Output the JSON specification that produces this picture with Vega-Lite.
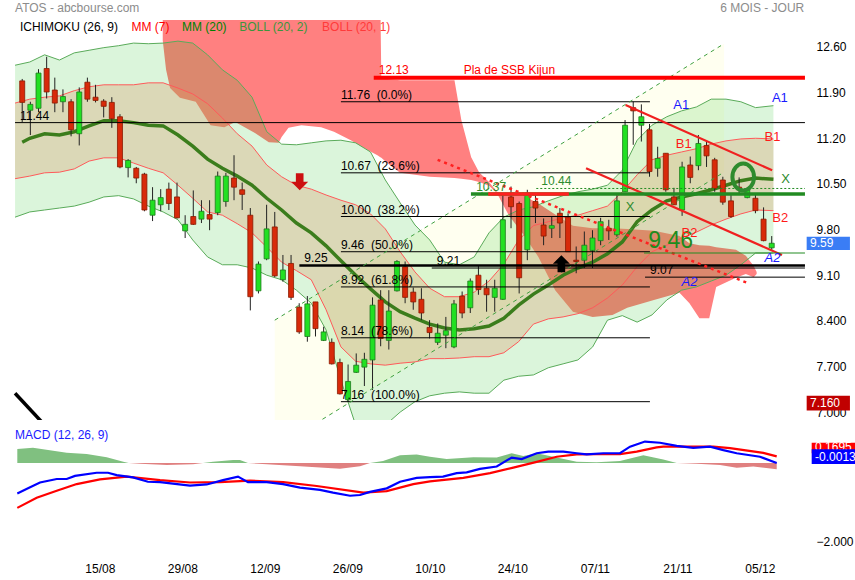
{
"$schema":"https://vega.github.io/schema/vega-lite/v6.json",
"background":"white",
"padding":{"left":10,"top":2,"right":0,"bottom":0},
"config":{"view":{"stroke":null},"font":"Liberation Sans","text":{"font":"Liberation Sans","fontSize":12}},
"spacing":20,
"bounds":"flush",
"datasets":{
"candles":[
{"k":0,"o":12.08,"h":12.11,"l":11.45,"c":11.75},{"k":1,"o":11.63,"h":11.76,"l":11.25,"c":11.72},{"k":2,"o":11.66,"h":12.26,"l":11.6,"c":12.2},{"k":3,"o":12.27,"h":12.45,"l":11.81,"c":11.91},{"k":4,"o":11.94,"h":12.13,"l":11.6,"c":11.74},{"k":5,"o":11.76,"h":11.95,"l":11.6,"c":11.84},{"k":6,"o":11.76,"h":11.8,"l":11.23,"c":11.33},{"k":7,"o":11.27,"h":11.98,"l":11.09,"c":11.91},{"k":8,"o":12.06,"h":12.13,"l":11.76,"c":11.8},{"k":9,"o":11.83,"h":12.02,"l":11.75,"c":11.78},
{"k":10,"o":11.77,"h":11.8,"l":11.52,"c":11.69},{"k":11,"o":11.75,"h":11.83,"l":11.36,"c":11.5},{"k":12,"o":11.53,"h":11.57,"l":10.74,"c":10.76},{"k":13,"o":10.75,"h":10.88,"l":10.6,"c":10.86},{"k":14,"o":10.74,"h":10.76,"l":10.51,"c":10.59},{"k":15,"o":10.65,"h":10.67,"l":10.08,"c":10.1},{"k":16,"o":10.02,"h":10.45,"l":9.93,"c":10.25},{"k":17,"o":10.18,"h":10.42,"l":10.08,"c":10.29},{"k":18,"o":10.42,"h":10.52,"l":10.1,"c":10.2},{"k":19,"o":10.3,"h":10.52,"l":9.97,"c":9.98},
{"k":20,"o":9.78,"h":10.02,"l":9.67,"c":9.88},{"k":21,"o":10.0,"h":10.4,"l":9.87,"c":9.88},{"k":22,"o":9.96,"h":10.25,"l":9.9,"c":10.08},{"k":23,"o":10.03,"h":10.25,"l":9.79,"c":9.96},{"k":24,"o":10.06,"h":10.69,"l":10.02,"c":10.62},{"k":25,"o":10.23,"h":10.67,"l":10.15,"c":10.62},{"k":26,"o":10.59,"h":10.94,"l":10.25,"c":10.45},{"k":27,"o":10.41,"h":10.52,"l":10.1,"c":10.34},{"k":28,"o":10.02,"h":10.13,"l":8.56,"c":8.77},{"k":29,"o":8.86,"h":9.31,"l":8.82,"c":9.27},
{"k":30,"o":9.35,"h":10.18,"l":9.33,"c":9.81},{"k":31,"o":9.84,"h":10.07,"l":9.07,"c":9.09},{"k":32,"o":9.03,"h":9.41,"l":9.0,"c":9.18},{"k":33,"o":9.28,"h":9.41,"l":8.72,"c":8.76},{"k":34,"o":8.61,"h":8.67,"l":8.2,"c":8.23},{"k":35,"o":8.16,"h":8.78,"l":8.08,"c":8.66},{"k":36,"o":8.69,"h":8.69,"l":8.16,"c":8.28},{"k":37,"o":8.1,"h":8.31,"l":8.09,"c":8.23},{"k":38,"o":8.07,"h":8.13,"l":7.73,"c":7.74},{"k":39,"o":7.76,"h":7.82,"l":7.27,"c":7.28},
{"k":40,"o":7.19,"h":7.73,"l":7.16,"c":7.47},{"k":41,"o":7.61,"h":7.9,"l":7.6,"c":7.72},{"k":42,"o":7.69,"h":7.91,"l":7.4,"c":7.81},{"k":43,"o":7.8,"h":8.76,"l":7.34,"c":8.64},{"k":44,"o":8.72,"h":8.87,"l":8.01,"c":8.13},{"k":45,"o":8.1,"h":8.87,"l":7.96,"c":8.55},{"k":46,"o":8.86,"h":9.33,"l":8.85,"c":9.31},{"k":47,"o":9.23,"h":9.31,"l":8.67,"c":8.76},{"k":48,"o":8.84,"h":8.91,"l":8.57,"c":8.69},{"k":49,"o":8.73,"h":8.9,"l":8.41,"c":8.52},
{"k":50,"o":8.3,"h":8.41,"l":8.13,"c":8.22},{"k":51,"o":8.07,"h":8.36,"l":8.03,"c":8.21},{"k":52,"o":8.18,"h":8.46,"l":7.98,"c":8.25},{"k":53,"o":8.0,"h":8.72,"l":7.98,"c":8.66},{"k":54,"o":8.78,"h":8.85,"l":8.44,"c":8.52},{"k":55,"o":8.6,"h":9.05,"l":8.52,"c":9.01},{"k":56,"o":9.1,"h":9.24,"l":8.8,"c":8.88},{"k":57,"o":8.9,"h":9.03,"l":8.54,"c":8.8},{"k":58,"o":8.76,"h":9.03,"l":8.54,"c":8.9},{"k":59,"o":8.73,"h":10.33,"l":8.72,"c":9.95},
{"k":60,"o":10.3,"h":10.46,"l":9.82,"c":10.15},{"k":61,"o":10.2,"h":10.23,"l":8.82,"c":9.06},{"k":62,"o":9.49,"h":10.41,"l":9.33,"c":10.36},{"k":63,"o":10.23,"h":10.36,"l":9.9,"c":10.13},{"k":64,"o":9.87,"h":9.97,"l":9.56,"c":9.7},{"k":65,"o":9.82,"h":10.0,"l":9.67,"c":9.86},{"k":66,"o":10.05,"h":10.13,"l":9.67,"c":9.9},{"k":67,"o":9.99,"h":10.05,"l":9.46,"c":9.46},{"k":68,"o":9.33,"h":9.54,"l":9.13,"c":9.31},{"k":69,"o":9.33,"h":9.77,"l":9.21,"c":9.56},
{"k":70,"o":9.48,"h":9.79,"l":9.21,"c":9.67},{"k":71,"o":9.63,"h":9.98,"l":9.56,"c":9.92},{"k":72,"o":9.82,"h":9.95,"l":9.64,"c":9.78},{"k":73,"o":9.72,"h":10.33,"l":9.69,"c":10.24},{"k":74,"o":10.38,"h":11.48,"l":10.38,"c":11.4},{"k":75,"o":11.67,"h":11.76,"l":11.1,"c":11.62},{"k":76,"o":11.4,"h":11.72,"l":11.15,"c":11.53},{"k":77,"o":11.33,"h":11.42,"l":10.61,"c":10.69},{"k":78,"o":10.74,"h":11.07,"l":10.61,"c":10.89},{"k":79,"o":10.97,"h":10.97,"l":10.38,"c":10.41},
{"k":80,"o":10.3,"h":10.44,"l":10.18,"c":10.18},{"k":81,"o":10.1,"h":10.84,"l":10.01,"c":10.76},{"k":82,"o":10.79,"h":10.92,"l":10.51,"c":10.6},{"k":83,"o":10.78,"h":11.25,"l":10.71,"c":11.12},{"k":84,"o":11.09,"h":11.16,"l":10.76,"c":10.93},{"k":85,"o":10.87,"h":10.9,"l":10.38,"c":10.43},{"k":86,"o":10.56,"h":10.61,"l":10.18,"c":10.22},{"k":87,"o":10.24,"h":10.33,"l":9.98,"c":10.0},{"k":88,"o":10.45,"h":10.6,"l":10.33,"c":10.41},{"k":89,"o":10.29,"h":10.45,"l":10.28,"c":10.41},
{"k":90,"o":10.28,"h":10.36,"l":10.05,"c":10.09},{"k":91,"o":9.96,"h":10.14,"l":9.62,"c":9.63},{"k":92,"o":9.52,"h":9.7,"l":9.49,"c":9.59}
],
"bands":[
{"k":-0.88,"ou":12.32,"iu":11.74,"il":10.58,"ol":9.99},{"k":0.93,"ou":12.37,"iu":11.8,"il":10.62,"ol":10.07},{"k":2.75,"ou":12.48,"iu":11.83,"il":10.67,"ol":10.1},{"k":4.57,"ou":12.4,"iu":11.85,"il":10.68,"ol":10.13},{"k":6.39,"ou":12.51,"iu":11.93,"il":10.73,"ol":10.16},{"k":8.21,"ou":12.55,"iu":11.99,"il":10.85,"ol":10.22},{"k":10.02,"ou":12.59,"iu":12.02,"il":10.9,"ol":10.3},{"k":11.84,"ou":12.62,"iu":12.02,"il":10.9,"ol":10.32},{"k":13.66,"ou":12.66,"iu":12.02,"il":10.82,"ol":10.27},{"k":15.48,"ou":12.65,"iu":12.05,"il":10.74,"ol":10.16},
{"k":17.3,"ou":12.66,"iu":12.05,"il":10.67,"ol":10.07},{"k":19.12,"ou":12.69,"iu":11.97,"il":10.48,"ol":9.95},{"k":20.93,"ou":12.66,"iu":11.88,"il":10.28,"ol":9.64},{"k":22.75,"ou":12.48,"iu":11.73,"il":10.07,"ol":9.38},{"k":24.57,"ou":12.25,"iu":11.51,"il":10.02,"ol":9.26},{"k":26.39,"ou":12.09,"iu":11.27,"il":9.89,"ol":9.26},{"k":28.21,"ou":11.83,"iu":11.08,"il":9.75,"ol":9.21},{"k":30.02,"ou":11.3,"iu":10.79,"il":9.53,"ol":9.1},{"k":31.84,"ou":11.11,"iu":10.61,"il":9.3,"ol":9.03},{"k":33.66,"ou":11.1,"iu":10.48,"il":9.17,"ol":8.87},
{"k":35.48,"ou":11.13,"iu":10.42,"il":9.03,"ol":8.67},{"k":37.3,"ou":11.16,"iu":10.33,"il":8.57,"ol":8.26},{"k":39.12,"ou":11.17,"iu":10.25,"il":8.0,"ol":7.49},{"k":40.93,"ou":11.13,"iu":10.18,"il":7.78,"ol":6.8},{"k":42.75,"ou":10.99,"iu":10.04,"il":7.74,"ol":6.65},{"k":44.57,"ou":10.56,"iu":9.81,"il":7.72,"ol":6.8},{"k":46.39,"ou":10.21,"iu":9.46,"il":7.75,"ol":7.0},{"k":48.21,"ou":9.87,"iu":9.15,"il":7.77,"ol":7.16},{"k":50.02,"ou":9.64,"iu":8.9,"il":7.82,"ol":7.25},{"k":51.84,"ou":9.3,"iu":8.77,"il":7.82,"ol":7.29},
{"k":53.66,"ou":9.26,"iu":8.77,"il":7.83,"ol":7.31},{"k":55.48,"ou":9.38,"iu":8.84,"il":7.85,"ol":7.29},{"k":57.3,"ou":9.75,"iu":9.01,"il":7.85,"ol":7.29},{"k":59.12,"ou":9.99,"iu":9.27,"il":7.91,"ol":7.49},{"k":60.93,"ou":10.1,"iu":9.64,"il":8.08,"ol":7.55},{"k":62.75,"ou":10.15,"iu":9.86,"il":8.35,"ol":7.57},{"k":64.57,"ou":10.24,"iu":9.92,"il":8.43,"ol":7.68},{"k":66.39,"ou":10.32,"iu":9.98,"il":8.46,"ol":7.74},{"k":68.21,"ou":10.38,"iu":10.02,"il":8.51,"ol":7.8},{"k":70.02,"ou":10.42,"iu":10.09,"il":8.6,"ol":8.0},
{"k":71.84,"ou":10.48,"iu":10.16,"il":8.75,"ol":8.41},{"k":73.66,"ou":10.71,"iu":10.38,"il":8.95,"ol":8.48},{"k":75.48,"ou":11.17,"iu":10.64,"il":9.23,"ol":8.38},{"k":77.3,"ou":11.4,"iu":10.87,"il":9.46,"ol":8.49},{"k":79.12,"ou":11.53,"iu":10.94,"il":9.56,"ol":8.72},{"k":80.93,"ou":11.62,"iu":10.99,"il":9.67,"ol":8.87},{"k":82.75,"ou":11.68,"iu":11.04,"il":9.76,"ol":8.92},{"k":84.57,"ou":11.8,"iu":11.11,"il":9.87,"ol":9.01},{"k":86.39,"ou":11.8,"iu":11.16,"il":9.96,"ol":9.1},{"k":88.21,"ou":11.76,"iu":11.19,"il":10.04,"ol":9.26},
{"k":90.02,"ou":11.67,"iu":11.2,"il":10.1,"ol":9.44},{"k":92.21,"ou":11.7,"iu":11.19,"il":10.09,"ol":9.44}
],
"mm20":[
{"k":0,"v":11.14},{"k":0.93,"v":11.2},{"k":2.75,"v":11.27},{"k":4.57,"v":11.25},{"k":6.39,"v":11.3},{"k":8.21,"v":11.39},{"k":10.02,"v":11.47},{"k":11.84,"v":11.47},{"k":13.66,"v":11.44},{"k":15.48,"v":11.4},{"k":17.3,"v":11.39},{"k":19.12,"v":11.25},{"k":20.93,"v":11.08},{"k":22.75,"v":10.88},{"k":24.57,"v":10.74},{"k":26.39,"v":10.62},{"k":28.21,"v":10.48},{"k":30.02,"v":10.28},{"k":31.84,"v":10.1},{"k":33.66,"v":9.9},{"k":35.48,"v":9.75},{"k":37.3,"v":9.55},{"k":39.12,"v":9.32},{"k":40.93,"v":9.1},{"k":42.75,"v":8.89},{"k":44.57,"v":8.69},{"k":46.39,"v":8.54},{"k":48.21,"v":8.44},{"k":50.02,"v":8.35},{"k":51.84,"v":8.29},{"k":53.66,"v":8.26},{"k":55.48,"v":8.28},{"k":57.3,"v":8.32},{"k":59.12,"v":8.44},{"k":60.93,"v":8.64},{"k":62.75,"v":8.81},{"k":64.57,"v":8.95},{"k":66.39,"v":9.1},{"k":68.21,"v":9.21},{"k":70.02,"v":9.3},{"k":71.84,"v":9.43},{"k":73.66,"v":9.61},{"k":75.48,"v":9.92},{"k":77.3,"v":10.1},{"k":79.12,"v":10.24},{"k":80.93,"v":10.3},{"k":82.75,"v":10.35},{"k":84.57,"v":10.41},{"k":86.39,"v":10.48},{"k":88.21,"v":10.55},{"k":90.02,"v":10.59},{"k":92.21,"v":10.57}
],
"cloud":[
{"k":17.25,"t":13.3,"b":12.7},{"k":17.66,"t":13.3,"b":12.25},{"k":18.15,"t":13.3,"b":11.97},{"k":19.36,"t":13.3,"b":11.82},{"k":21.3,"t":13.3,"b":11.76},{"k":22.15,"t":13.3,"b":11.59},{"k":23.12,"t":13.3,"b":11.4},{"k":24.81,"t":13.3,"b":11.37},{"k":26.15,"t":13.3,"b":11.45},{"k":28.57,"t":13.3,"b":11.28},{"k":30.27,"t":13.3,"b":11.14},{"k":31.48,"t":13.3,"b":11.13},{"k":31.84,"t":13.3,"b":11.22},{"k":32.69,"t":13.3,"b":11.36},{"k":34.27,"t":13.3,"b":11.4},{"k":36.69,"t":13.3,"b":11.37},{"k":38.27,"t":13.3,"b":11.3},{"k":40.33,"t":13.3,"b":11.17},{"k":42.39,"t":13.3,"b":11.02},{"k":43.6,"t":13.3,"b":10.94},{"k":43.96,"t":13.3,"b":10.91},
{"k":44.08,"t":12.11,"b":10.9},{"k":44.81,"t":12.11,"b":10.82},{"k":46.39,"t":12.09,"b":10.67},{"k":50.02,"t":12.09,"b":10.61},{"k":53.06,"t":12.09,"b":10.59},{"k":53.9,"t":11.48,"b":10.58},{"k":55.11,"t":10.91,"b":10.56},{"k":56.08,"t":10.68,"b":10.53},{"k":57.3,"t":10.53,"b":10.47},{"k":58.26,"t":10.38,"b":10.36},
{"k":59.72,"t":10.33,"b":10.02},{"k":61.54,"t":10.32,"b":9.72},{"k":63.36,"t":10.2,"b":9.38},{"k":65.42,"t":10.03,"b":8.87},{"k":67.6,"t":9.86,"b":8.54},{"k":70.02,"t":9.82,"b":8.46},{"k":72.45,"t":9.82,"b":8.49},{"k":74.27,"t":9.81,"b":8.6},{"k":77.54,"t":9.78,"b":8.72},{"k":80.68,"t":9.7,"b":8.83},{"k":81.9,"t":9.59,"b":8.67},{"k":83.12,"t":9.56,"b":8.44},{"k":84.33,"t":9.55,"b":8.44},{"k":85.18,"t":9.53,"b":8.92},{"k":87.61,"t":9.49,"b":9.06},{"k":88.82,"t":9.4,"b":9.12},{"k":89.79,"t":9.24,"b":9.07},{"k":90.15,"t":9.15,"b":9.12}
],
"fib":[
{"v":11.76,"t":"11.76\u00a0 (0.0%)"},{"v":10.67,"t":"10.67\u00a0 (23.6%)"},{"v":10.0,"t":"10.00\u00a0 (38.2%)"},{"v":9.46,"t":"9.46\u00a0 (50.0%)"},{"v":8.92,"t":"8.92\u00a0 (61.8%)"},{"v":8.14,"t":"8.14\u00a0 (78.6%)"},{"v":7.16,"t":"7.16\u00a0 (100.0%)"}
],
"macd":[
{"k":0,"v":-0.78},{"k":1.3,"v":-0.65},{"k":2.75,"v":-0.5},{"k":4.78,"v":-0.41},{"k":5.99,"v":-0.41},{"k":6.99,"v":-0.33},{"k":9.62,"v":-0.25},{"k":10.99,"v":-0.25},{"k":12.05,"v":-0.31},{"k":14.02,"v":-0.37},{"k":15.84,"v":-0.48},{"k":17.3,"v":-0.49},{"k":20.93,"v":-0.58},{"k":22.96,"v":-0.55},{"k":24.93,"v":-0.44},{"k":26.75,"v":-0.35},{"k":27.96,"v":-0.49},{"k":30.23,"v":-0.49},{"k":32.21,"v":-0.54},{"k":34.27,"v":-0.63},{"k":36.69,"v":-0.69},{"k":38.27,"v":-0.76},{"k":40.33,"v":-0.84},{"k":41.54,"v":-0.82},{"k":42.75,"v":-0.74},{"k":44.78,"v":-0.65},{"k":46.39,"v":-0.48},{"k":48.41,"v":-0.38},{"k":50.02,"v":-0.36},{"k":51.6,"v":-0.35},{"k":53.26,"v":-0.26},{"k":54.47,"v":-0.24},{"k":56.08,"v":-0.15},{"k":58.11,"v":-0.09},{"k":59.93,"v":0.14},{"k":61.14,"v":0.1},{"k":62.96,"v":0.25},{"k":64.36,"v":0.29},{"k":66.18,"v":0.29},{"k":67.81,"v":0.25},{"k":69.02,"v":0.22},{"k":71.03,"v":0.25},{"k":73.05,"v":0.25},{"k":74.27,"v":0.42},{"k":76.08,"v":0.55},{"k":77.9,"v":0.52},{"k":79.93,"v":0.44},{"k":81.94,"v":0.39},{"k":83.96,"v":0.42},{"k":85.58,"v":0.33},{"k":87.2,"v":0.25},{"k":90.02,"v":0.16},{"k":92.05,"v":-0.0013}
],
"signal":[
{"k":0,"v":-1.15},{"k":2.35,"v":-0.89},{"k":4.78,"v":-0.71},{"k":7.2,"v":-0.54},{"k":10.02,"v":-0.42},{"k":13.26,"v":-0.35},{"k":17.3,"v":-0.44},{"k":20.93,"v":-0.5},{"k":24.57,"v":-0.49},{"k":28.21,"v":-0.45},{"k":32.24,"v":-0.49},{"k":36.29,"v":-0.59},{"k":41.94,"v":-0.76},{"k":44.78,"v":-0.72},{"k":48.0,"v":-0.54},{"k":50.02,"v":-0.47},{"k":54.06,"v":-0.38},{"k":57.3,"v":-0.26},{"k":60.12,"v":-0.12},{"k":62.96,"v":0.03},{"k":65.38,"v":0.16},{"k":67.81,"v":0.22},{"k":70.23,"v":0.23},{"k":73.05,"v":0.23},{"k":75.08,"v":0.29},{"k":77.5,"v":0.4},{"k":78.3,"v":0.42},{"k":84.36,"v":0.42},{"k":86.39,"v":0.38},{"k":90.42,"v":0.26},{"k":92.05,"v":0.1695}
],
"hist":[
{"k":0,"h":0.36,"seg":1,"s":"pos"},{"k":1.9,"h":0.39,"seg":1,"s":"pos"},{"k":5.99,"h":0.26,"seg":1,"s":"pos"},{"k":8.41,"h":0.23,"seg":1,"s":"pos"},{"k":10.84,"h":0.15,"seg":1,"s":"pos"},{"k":12.85,"h":0.03,"seg":1,"s":"pos"},{"k":13.5,"h":0,"seg":1,"s":"pos"},
{"k":13.5,"h":0,"seg":2,"s":"neg"},{"k":14.87,"h":-0.02,"seg":2,"s":"neg"},{"k":18.11,"h":-0.05,"seg":2,"s":"neg"},{"k":21.3,"h":-0.03,"seg":2,"s":"neg"},{"k":22.5,"h":0,"seg":2,"s":"neg"},
{"k":22.5,"h":0,"seg":3,"s":"pos"},{"k":23.72,"h":0.03,"seg":3,"s":"pos"},{"k":26.15,"h":0.08,"seg":3,"s":"pos"},{"k":26.99,"h":0.08,"seg":3,"s":"pos"},{"k":27.96,"h":0,"seg":3,"s":"pos"},
{"k":27.96,"h":0,"seg":4,"s":"neg"},{"k":30.23,"h":-0.03,"seg":4,"s":"neg"},{"k":34.27,"h":-0.08,"seg":4,"s":"neg"},{"k":39.12,"h":-0.15,"seg":4,"s":"neg"},{"k":41.54,"h":-0.08,"seg":4,"s":"neg"},{"k":42.75,"h":0,"seg":4,"s":"neg"},
{"k":42.75,"h":0,"seg":5,"s":"pos"},{"k":44.33,"h":0.05,"seg":5,"s":"pos"},{"k":46.39,"h":0.2,"seg":5,"s":"pos"},{"k":48.41,"h":0.22,"seg":5,"s":"pos"},{"k":50.02,"h":0.16,"seg":5,"s":"pos"},{"k":52.05,"h":0.1,"seg":5,"s":"pos"},{"k":55.27,"h":0.15,"seg":5,"s":"pos"},{"k":58.11,"h":0.14,"seg":5,"s":"pos"},{"k":59.93,"h":0.25,"seg":5,"s":"pos"},{"k":61.33,"h":0.18,"seg":5,"s":"pos"},{"k":62.96,"h":0.25,"seg":5,"s":"pos"},{"k":65.38,"h":0.14,"seg":5,"s":"pos"},{"k":67.81,"h":0.03,"seg":5,"s":"pos"},{"k":70.23,"h":0.02,"seg":5,"s":"pos"},{"k":73.05,"h":0.05,"seg":5,"s":"pos"},{"k":75.88,"h":0.2,"seg":5,"s":"pos"},{"k":78.3,"h":0.09,"seg":5,"s":"pos"},{"k":79.93,"h":0,"seg":5,"s":"pos"},
{"k":79.93,"h":0,"seg":6,"s":"neg"},{"k":82.35,"h":-0.02,"seg":6,"s":"neg"},{"k":85.18,"h":-0.05,"seg":6,"s":"neg"},{"k":87.2,"h":-0.12,"seg":6,"s":"neg"},{"k":89.21,"h":-0.09,"seg":6,"s":"neg"},{"k":92.05,"h":-0.16,"seg":6,"s":"neg"}
]
},
"vconcat":[
{"width":800,"height":400,
"resolve":{"axis":{"x":"independent","y":"independent"}},
"layer":[
{"data":{"values":[{"k":31.0,"up":8.41,"lo":6.44},{"k":86.15,"up":12.65,"lo":10.68}]},
 "mark":{"type":"area","color":"#fffff0","clip":true},
 "encoding":{
  "x":{"field":"k","type":"quantitative","scale":{"domain":[-0.885,96.085],"nice":false,"zero":false},"axis":null},
  "y":{"field":"up","type":"quantitative","scale":{"domain":[6.879,13.014],"nice":false,"zero":false},
   "axis":{"orient":"right","title":null,"values":[12.6,11.9,11.2,10.5,9.8,9.1,8.4,7.7,7.0],"labelExpr":"datum.value > 8.5 ? format(datum.value, '.2f') : format(datum.value, '.3f')","domain":false,"ticks":false,"grid":false,"labelPadding":6,"labelFontSize":12,"labelColor":"#000000","labelFont":"Liberation Sans"}},
  "y2":{"field":"lo"}}},
{"data":{"name":"cloud"},"mark":{"type":"area","color":"#ff8080","clip":true},
 "encoding":{"x":{"field":"k","type":"quantitative","axis":null},"y":{"field":"t","type":"quantitative","axis":null},"y2":{"field":"b"}}},
{"data":{"name":"bands"},"mark":{"type":"area","color":"#00bb00","opacity":0.14,"clip":true},
 "encoding":{"x":{"field":"k","type":"quantitative","axis":null},"y":{"field":"ou","type":"quantitative","axis":null},"y2":{"field":"ol"}}},
{"data":{"name":"bands"},"mark":{"type":"area","color":"#dc9664","opacity":0.3,"clip":true},
 "encoding":{"x":{"field":"k","type":"quantitative","axis":null},"y":{"field":"iu","type":"quantitative","axis":null},"y2":{"field":"il"}}},
{"data":{"name":"bands"},"mark":{"type":"line","color":"#5aab5a","strokeWidth":1,"clip":true},
 "encoding":{"x":{"field":"k","type":"quantitative","axis":null},"y":{"field":"ou","type":"quantitative","axis":null}}},
{"data":{"name":"bands"},"mark":{"type":"line","color":"#5aab5a","strokeWidth":1,"clip":true},
 "encoding":{"x":{"field":"k","type":"quantitative","axis":null},"y":{"field":"ol","type":"quantitative","axis":null}}},
{"data":{"name":"bands"},"mark":{"type":"line","color":"#ff5a5a","strokeWidth":1,"clip":true},
 "encoding":{"x":{"field":"k","type":"quantitative","axis":null},"y":{"field":"iu","type":"quantitative","axis":null}}},
{"data":{"name":"bands"},"mark":{"type":"line","color":"#ff5a5a","strokeWidth":1,"clip":true},
 "encoding":{"x":{"field":"k","type":"quantitative","axis":null},"y":{"field":"il","type":"quantitative","axis":null}}},
{"data":{"name":"mm20"},"mark":{"type":"line","color":"#3b7d1c","strokeWidth":3.5,"clip":true},
 "encoding":{"x":{"field":"k","type":"quantitative","axis":null},"y":{"field":"v","type":"quantitative","axis":null}}},
{"data":{"name":"candles"},"mark":{"type":"rule","color":"#222222","strokeWidth":1},
 "encoding":{"x":{"field":"k","type":"quantitative","axis":null},"y":{"field":"l","type":"quantitative","axis":null},"y2":{"field":"h"}}},
{"data":{"name":"candles"},"mark":{"type":"bar","orient":"vertical","size":5,"strokeWidth":0.8},
 "encoding":{"x":{"field":"k","type":"quantitative","axis":null},"y":{"field":"o","type":"quantitative","axis":null},"y2":{"field":"c"},
  "fill":{"condition":{"test":"datum.c >= datum.o","value":"#22e022"},"value":"#d82a0a"},
  "stroke":{"condition":{"test":"datum.c >= datum.o","value":"#1d7a1d"},"value":"#8a1a00"}}},
{"data":{"name":"fib"},"mark":{"type":"rule","color":"#000000","strokeWidth":1},
 "encoding":{"x":{"datum":39.12,"type":"quantitative","axis":null},"x2":{"datum":77.05},"y":{"field":"v","type":"quantitative","axis":null}}},
{"data":{"name":"fib"},"mark":{"type":"text","align":"left","baseline":"alphabetic","dy":-3,"color":"#000000","fontSize":12},
 "encoding":{"x":{"datum":39.12,"type":"quantitative","axis":null},"y":{"field":"v","type":"quantitative","axis":null},"text":{"field":"t"}}},
{"data":{"values":[{"k1":-0.88,"k2":96.08,"v":11.44},{"k1":50.27,"k2":96.08,"v":9.21},{"k1":76.45,"k2":96.08,"v":9.07}]},
 "mark":{"type":"rule","color":"#000000","strokeWidth":1},
 "encoding":{"x":{"field":"k1","type":"quantitative","axis":null},"x2":{"field":"k2"},"y":{"field":"v","type":"quantitative","axis":null}}},
{"data":{"values":[{"k1":34.02,"k2":96.08,"v":9.25}]},
 "mark":{"type":"rule","color":"#000000","strokeWidth":2.5},
 "encoding":{"x":{"field":"k1","type":"quantitative","axis":null},"x2":{"field":"k2"},"y":{"field":"v","type":"quantitative","axis":null}}},
{"data":{"values":[{"k":-0.88,"v":11.44,"t":"11.44"},{"k":34.02,"v":9.25,"t":"9.25"},{"k":50.27,"v":9.21,"t":"9.21"},{"k":76.45,"v":9.07,"t":"9.07"}]},
 "mark":{"type":"text","align":"left","baseline":"alphabetic","dx":5,"dy":-3,"color":"#000000","fontSize":12},
 "encoding":{"x":{"field":"k","type":"quantitative","axis":null},"y":{"field":"v","type":"quantitative","axis":null},"text":{"field":"t"}}},
{"data":{"values":[{"k1":31.0,"v1":8.41,"k2":86.15,"v2":12.65},{"k1":31.0,"v1":6.44,"k2":86.15,"v2":10.68}]},
 "mark":{"type":"rule","color":"#3fa03f","strokeWidth":1,"strokeDash":[4,4],"clip":true},
 "encoding":{"x":{"field":"k1","type":"quantitative","axis":null},"y":{"field":"v1","type":"quantitative","axis":null},"x2":{"field":"k2"},"y2":{"field":"v2"}}},
{"data":{"values":[{"k1":50.99,"v1":10.87,"k2":89.05,"v2":8.98}]},
 "mark":{"type":"rule","color":"#ff2020","strokeWidth":2.5,"strokeDash":[3,4]},
 "encoding":{"x":{"field":"k1","type":"quantitative","axis":null},"y":{"field":"v1","type":"quantitative","axis":null},"x2":{"field":"k2"},"y2":{"field":"v2"}}},
{"data":{"values":[{"k1":74.06,"v1":11.71,"k2":92.05,"v2":10.71},{"k1":69.21,"v1":10.74,"k2":93.26,"v2":9.41}]},
 "mark":{"type":"rule","color":"#f02020","strokeWidth":2.2},
 "encoding":{"x":{"field":"k1","type":"quantitative","axis":null},"y":{"field":"v1","type":"quantitative","axis":null},"x2":{"field":"k2"},"y2":{"field":"v2"}}},
{"data":{"values":[{"k1":55.08,"k2":96.08,"v":10.345}]},
 "mark":{"type":"rule","color":"#228b22","strokeWidth":3.5},
 "encoding":{"x":{"field":"k1","type":"quantitative","axis":null},"x2":{"field":"k2"},"y":{"field":"v","type":"quantitative","axis":null}}},
{"data":{"values":[{"k1":57.2,"k2":67.1,"v":10.345}]},
 "mark":{"type":"rule","color":"#ff2020","strokeWidth":3.5},
 "encoding":{"x":{"field":"k1","type":"quantitative","axis":null},"x2":{"field":"k2"},"y":{"field":"v","type":"quantitative","axis":null}}},
{"data":{"values":[{"k1":63.1,"k2":96.08,"v":10.43}]},
 "mark":{"type":"rule","color":"#228b22","strokeWidth":1,"strokeDash":[2,2]},
 "encoding":{"x":{"field":"k1","type":"quantitative","axis":null},"x2":{"field":"k2"},"y":{"field":"v","type":"quantitative","axis":null}}},
{"data":{"values":[{"k1":76.33,"k2":96.08,"v":9.44}]},
 "mark":{"type":"rule","color":"#228b22","strokeWidth":1.2},
 "encoding":{"x":{"field":"k1","type":"quantitative","axis":null},"x2":{"field":"k2"},"y":{"field":"v","type":"quantitative","axis":null}}},
{"data":{"values":[{"k1":43.15,"k2":96.08,"v":12.13}]},
 "mark":{"type":"rule","color":"#ff0000","strokeWidth":4},
 "encoding":{"x":{"field":"k1","type":"quantitative","axis":null},"x2":{"field":"k2"},"y":{"field":"v","type":"quantitative","axis":null}}},
{"data":{"values":[{"k1":-0.88,"v1":7.29,"k2":4.0,"v2":6.633}]},
 "mark":{"type":"rule","color":"#000000","strokeWidth":3.5,"clip":true},
 "encoding":{"x":{"field":"k1","type":"quantitative","axis":null},"y":{"field":"v1","type":"quantitative","axis":null},"x2":{"field":"k2"},"y2":{"field":"v2"}}},
{"data":{"values":[{"k":34.06,"v":10.533}]},
 "mark":{"type":"point","shape":"M-0.45,-1L0.45,-1L0.45,0L1,0L0,1L-1,0L-0.45,0Z","filled":true,"color":"#cc1010","size":289,"opacity":1},
 "encoding":{"x":{"field":"k","type":"quantitative","axis":null},"y":{"field":"v","type":"quantitative","axis":null}}},
{"data":{"values":[{"k":66.18,"v":9.275}]},
 "mark":{"type":"point","shape":"M-0.45,1L0.45,1L0.45,0L1,0L0,-1L-1,0L-0.45,0Z","filled":true,"color":"#000000","size":289,"opacity":1},
 "encoding":{"x":{"field":"k","type":"quantitative","axis":null},"y":{"field":"v","type":"quantitative","axis":null}}},
{"data":{"values":[{"k":88.5,"v":10.606}]},
 "mark":{"type":"point","shape":"M0,-1A0.8,1,0,1,1,0,1A0.8,1,0,1,1,0,-1Z","filled":false,"stroke":"#2e8b2e","strokeWidth":4,"size":729,"opacity":1},
 "encoding":{"x":{"field":"k","type":"quantitative","axis":null},"y":{"field":"v","type":"quantitative","axis":null}}},
{"data":{"values":[{"k":79.6,"v":9.62,"t":"9.46"}]},
 "mark":{"type":"text","align":"center","baseline":"middle","fontSize":23,"color":"#1e8c1e"},
 "encoding":{"x":{"field":"k","type":"quantitative","axis":null},"y":{"field":"v","type":"quantitative","axis":null},"text":{"field":"t"}}},
{"data":{"values":[{"k":80.9,"v":11.71,"t":"A1"},{"k":93.0,"v":11.82,"t":"A1"}]},
 "mark":{"type":"text","align":"center","baseline":"middle","fontSize":13,"color":"#1a1aff"},
 "encoding":{"x":{"field":"k","type":"quantitative","axis":null},"y":{"field":"v","type":"quantitative","axis":null},"text":{"field":"t"}}},
{"data":{"values":[{"k":81.2,"v":11.11,"t":"B1"},{"k":92.1,"v":11.22,"t":"B1"},{"k":93.05,"v":9.98,"t":"B2"},{"k":81.9,"v":9.75,"t":"B2"}]},
 "mark":{"type":"text","align":"center","baseline":"middle","fontSize":13,"color":"#ff1a1a"},
 "encoding":{"x":{"field":"k","type":"quantitative","axis":null},"y":{"field":"v","type":"quantitative","axis":null},"text":{"field":"t"}}},
{"data":{"values":[{"k":74.6,"v":10.15,"t":"X"},{"k":93.7,"v":10.58,"t":"X"}]},
 "mark":{"type":"text","align":"center","baseline":"middle","fontSize":13,"color":"#2e8b2e"},
 "encoding":{"x":{"field":"k","type":"quantitative","axis":null},"y":{"field":"v","type":"quantitative","axis":null},"text":{"field":"t"}}},
{"data":{"values":[{"k":92.1,"v":9.36,"t":"A2"},{"k":81.9,"v":9.0,"t":"A2"}]},
 "mark":{"type":"text","align":"center","baseline":"middle","fontSize":13,"fontStyle":"italic","color":"#1a1aff"},
 "encoding":{"x":{"field":"k","type":"quantitative","axis":null},"y":{"field":"v","type":"quantitative","axis":null},"text":{"field":"t"}}},
{"data":{"values":[{"k":43.76,"v":12.13,"t":"12.13"},{"k":54.19,"v":12.13,"t":"Pla de SSB Kijun"}]},
 "mark":{"type":"text","align":"left","baseline":"alphabetic","dy":-4,"fontSize":12,"color":"#ff0000"},
 "encoding":{"x":{"field":"k","type":"quantitative","axis":null},"y":{"field":"v","type":"quantitative","axis":null},"text":{"field":"t"}}},
{"data":{"values":[{"k":55.72,"v":10.345,"t":"10.37"},{"k":63.72,"v":10.43,"t":"10.44"}]},
 "mark":{"type":"text","align":"left","baseline":"alphabetic","dy":-3,"fontSize":12,"color":"#2e8b2e"},
 "encoding":{"x":{"field":"k","type":"quantitative","axis":null},"y":{"field":"v","type":"quantitative","axis":null},"text":{"field":"t"}}},
{"data":{"values":[{"k":-0.28,"v":12.907,"t":"ICHIMOKU (26, 9)"}]},
 "mark":{"type":"text","align":"left","baseline":"middle","fontSize":12,"color":"#000000"},
 "encoding":{"x":{"field":"k","type":"quantitative","axis":null},"y":{"field":"v","type":"quantitative","axis":null},"text":{"field":"t"}}},
{"data":{"values":[{"k":13.42,"v":12.907,"t":"MM (7)"}]},
 "mark":{"type":"text","align":"left","baseline":"middle","fontSize":12,"color":"#ff0000"},
 "encoding":{"x":{"field":"k","type":"quantitative","axis":null},"y":{"field":"v","type":"quantitative","axis":null},"text":{"field":"t"}}},
{"data":{"values":[{"k":19.6,"v":12.907,"t":"MM (20)"}]},
 "mark":{"type":"text","align":"left","baseline":"middle","fontSize":12,"color":"#008000"},
 "encoding":{"x":{"field":"k","type":"quantitative","axis":null},"y":{"field":"v","type":"quantitative","axis":null},"text":{"field":"t"}}},
{"data":{"values":[{"k":26.63,"v":12.907,"t":"BOLL (20, 2)"}]},
 "mark":{"type":"text","align":"left","baseline":"middle","fontSize":12,"color":"#3c963c"},
 "encoding":{"x":{"field":"k","type":"quantitative","axis":null},"y":{"field":"v","type":"quantitative","axis":null},"text":{"field":"t"}}},
{"data":{"values":[{"k":36.81,"v":12.907,"t":"BOLL (20, 1)"}]},
 "mark":{"type":"text","align":"left","baseline":"middle","fontSize":12,"color":"#ff3a3a"},
 "encoding":{"x":{"field":"k","type":"quantitative","axis":null},"y":{"field":"v","type":"quantitative","axis":null},"text":{"field":"t"}}},
{"data":{"values":[{"k":-0.88,"v":13.198,"t":"ATOS - abcbourse.com"}]},
 "mark":{"type":"text","align":"left","baseline":"middle","fontSize":12,"color":"#8c8c8c"},
 "encoding":{"x":{"field":"k","type":"quantitative","axis":null},"y":{"field":"v","type":"quantitative","axis":null},"text":{"field":"t"}}},
{"data":{"values":[{"k":95.99,"v":13.198,"t":"6 MOIS - JOUR"}]},
 "mark":{"type":"text","align":"right","baseline":"middle","fontSize":12,"color":"#8c8c8c"},
 "encoding":{"x":{"field":"k","type":"quantitative","axis":null},"y":{"field":"v","type":"quantitative","axis":null},"text":{"field":"t"}}},
{"data":{"values":[{"a":1}]},"mark":{"type":"rect","color":"#3a7df5"},
 "encoding":{"x":{"datum":96.29,"type":"quantitative","axis":null},"x2":{"datum":101.6},"y":{"datum":9.691,"type":"quantitative","axis":null},"y2":{"datum":9.487}}},
{"data":{"values":[{"a":1}]},"mark":{"type":"rect","color":"#c00000"},
 "encoding":{"x":{"datum":96.29,"type":"quantitative","axis":null},"x2":{"datum":101.6},"y":{"datum":7.252,"type":"quantitative","axis":null},"y2":{"datum":7.023}}},
{"data":{"values":[{"k":96.7,"v":9.59,"t":"9.59"},{"k":96.7,"v":7.14,"t":"7.160"}]},
 "mark":{"type":"text","align":"left","baseline":"middle","fontSize":12,"color":"#ffffff"},
 "encoding":{"x":{"field":"k","type":"quantitative","axis":null},"y":{"field":"v","type":"quantitative","axis":null},"text":{"field":"t"}}}
]},
{"width":800,"height":115,
"resolve":{"axis":{"x":"independent","y":"independent"}},
"layer":[
{"data":{"name":"hist"},"transform":[{"filter":"datum.s == 'pos'"}],"mark":{"type":"area","color":"#80c080","opacity":1},
 "encoding":{
  "x":{"field":"k","type":"quantitative","scale":{"domain":[-0.885,96.085],"nice":false,"zero":false},
   "axis":{"orient":"bottom","title":null,"values":[10,20,30,40,50,60,70,80,90],"labelExpr":"['15/08','29/08','12/09','26/09','10/10','24/10','07/11','21/11','05/12'][round(datum.value/10)-1]","domain":false,"ticks":false,"grid":false,"labelPadding":8,"labelFontSize":12,"labelColor":"#000000","labelDx":-3,"labelFont":"Liberation Sans"}},
  "y":{"field":"h","type":"quantitative","scale":{"domain":[-2.359,0.59],"nice":false,"zero":false},
   "axis":{"orient":"right","title":null,"values":[-2],"labelExpr":"format(datum.value, '.3f')","domain":false,"ticks":false,"grid":false,"labelPadding":6,"labelFontSize":12,"labelColor":"#000000","labelFont":"Liberation Sans"}},
  "y2":{"datum":0},
  "detail":{"field":"seg","type":"nominal"}}},
{"data":{"name":"hist"},"transform":[{"filter":"datum.s == 'neg'"}],"mark":{"type":"area","color":"#e08080","opacity":1},
 "encoding":{
  "x":{"field":"k","type":"quantitative","axis":null},
  "y":{"field":"h","type":"quantitative","axis":null},
  "y2":{"datum":0},
  "detail":{"field":"seg","type":"nominal"}}},
{"data":{"name":"signal"},"mark":{"type":"line","color":"#ff0000","strokeWidth":2.2},
 "encoding":{"x":{"field":"k","type":"quantitative","axis":null},"y":{"field":"v","type":"quantitative","axis":null}}},
{"data":{"name":"macd"},"mark":{"type":"line","color":"#0000ff","strokeWidth":2.2},
 "encoding":{"x":{"field":"k","type":"quantitative","axis":null},"y":{"field":"v","type":"quantitative","axis":null}}},
{"data":{"values":[{"k":-0.28,"v":0.718,"t":"MACD (12, 26, 9)"}]},
 "mark":{"type":"text","align":"left","baseline":"middle","fontSize":12,"color":"#1a1aff"},
 "encoding":{"x":{"field":"k","type":"quantitative","axis":null},"y":{"field":"v","type":"quantitative","axis":null},"text":{"field":"t"}}},
{"data":{"values":[{"a":1}]},"mark":{"type":"rect","color":"#ff0000"},
 "encoding":{"x":{"datum":96.29,"type":"quantitative","axis":null},"x2":{"datum":101.6},"y":{"datum":0.52,"type":"quantitative","axis":null},"y2":{"datum":0.25}}},
{"data":{"values":[{"k":96.7,"v":0.4,"t":"0.1695"}]},
 "mark":{"type":"text","align":"left","baseline":"middle","fontSize":12,"color":"#ffffff"},
 "encoding":{"x":{"field":"k","type":"quantitative","axis":null},"y":{"field":"v","type":"quantitative","axis":null},"text":{"field":"t"}}},
{"data":{"values":[{"a":1}]},"mark":{"type":"rect","color":"#0000ff"},
 "encoding":{"x":{"datum":96.29,"type":"quantitative","axis":null},"x2":{"datum":101.6},"y":{"datum":0.351,"type":"quantitative","axis":null},"y2":{"datum":-0.026}}},
{"data":{"values":[{"k":96.7,"v":0.163,"t":"-0.0013"}]},
 "mark":{"type":"text","align":"left","baseline":"middle","fontSize":12,"color":"#ffffff"},
 "encoding":{"x":{"field":"k","type":"quantitative","axis":null},"y":{"field":"v","type":"quantitative","axis":null},"text":{"field":"t"}}}
]}
]
}
